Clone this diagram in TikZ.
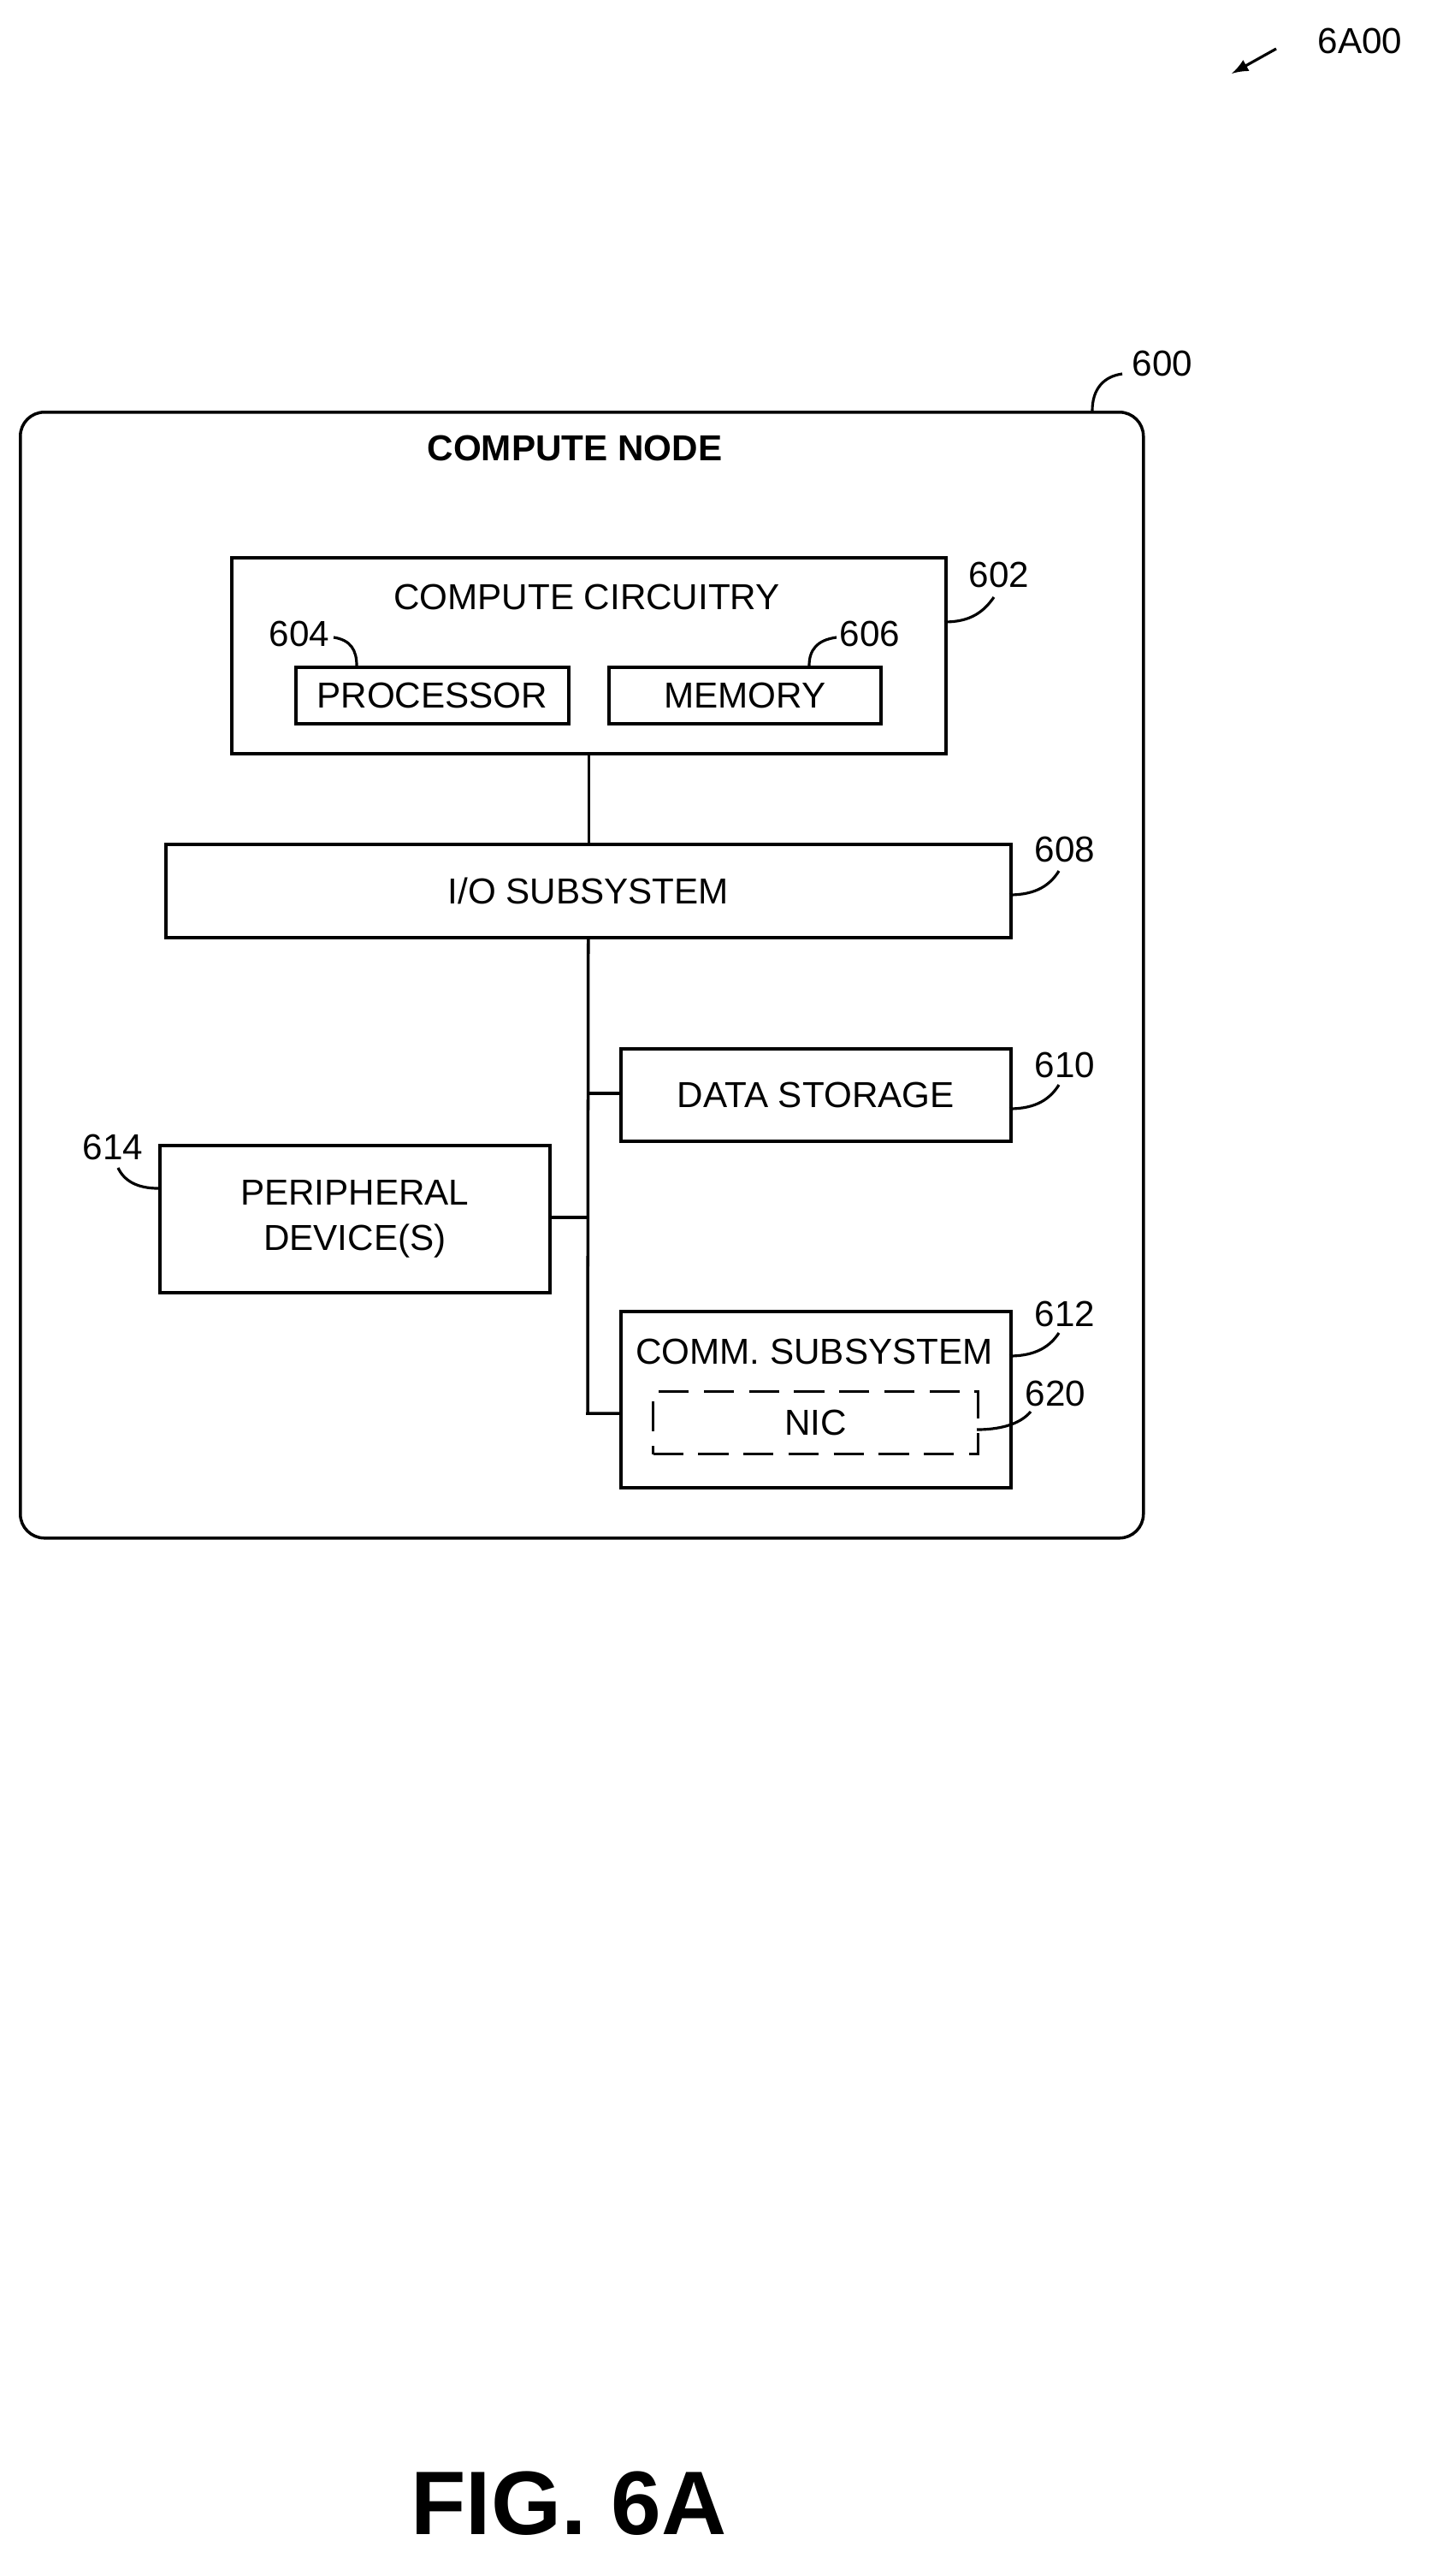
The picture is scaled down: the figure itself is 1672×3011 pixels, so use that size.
\documentclass[tikz,border=0pt]{standalone}
\usepackage{fontspec}
\setmainfont{Liberation Sans}
\usetikzlibrary{positioning}
\tikzstyle{block} = [
    rectangle,
    draw=black,
    line width=1pt,
    inner sep=0pt,
    font=\fontsize{12}{15}\selectfont,
    align=center
]
\tikzstyle{refnum} = [
    font=\fontsize{12}{15}\selectfont,
    inner sep=1pt
]
\tikzstyle{lead} = [
    line width=0.9pt
]
\tikzstyle{bus} = [
    line width=1pt
]

\begin{document}
\begin{tikzpicture}[x=0.01cm, y=-0.01cm]
    \useasboundingbox (0,0) rectangle (1672,3011);
    % outer node
    \node (node) [block, rounded corners=8pt, minimum width=1313*0.01cm, minimum height=1316*0.01cm, anchor=north west] at (22,480) {};
    \node (title) [font=\fontsize{12}{15}\selectfont\bfseries] at (672,524) {COMPUTE NODE};
    % compute circuitry
    \node (circ) [block, minimum width=835*0.01cm, minimum height=229*0.01cm, anchor=north west] at (269,650) {};
    \node (circtext) [font=\fontsize{12}{15}\selectfont] at (686,698) {COMPUTE CIRCUITRY};
    \node (proc) [block, minimum width=319*0.01cm, minimum height=66*0.01cm, anchor=north west] at (344,778) {PROCESSOR};
    \node (mem) [block, minimum width=318*0.01cm, minimum height=66*0.01cm, anchor=north west] at (710,778) {MEMORY};
    % I/O and devices
    \node (io) [block, minimum width=988*0.01cm, minimum height=109*0.01cm, anchor=north west] at (192,985) {I/O SUBSYSTEM};
    \node (store) [block, minimum width=456*0.01cm, minimum height=108*0.01cm, anchor=north west] at (724,1224) {DATA STORAGE};
    \node (periph) [block, minimum width=456*0.01cm, minimum height=172*0.01cm, anchor=north west] at (185,1337) {PERIPHERAL\\DEVICE(S)};
    \node (comm) [block, minimum width=456*0.01cm, minimum height=206*0.01cm, anchor=north west] at (724,1531) {};
    \node (commtext) [font=\fontsize{12}{15}\selectfont] at (952,1580) {COMM. SUBSYSTEM};
    \node (nic) [block, dash pattern=on 10pt off 5pt, line width=0.9pt, minimum width=380*0.01cm, minimum height=73*0.01cm, anchor=north west] at (762,1625) {NIC};

    \coordinate (busstore) at (687,1278);
    \coordinate (busperiph) at (687,1423);
    \coordinate (buscomm) at (687,1652);
    \draw[bus] (circ.south) -- (circ.south |- io.north);
    \draw[bus] (io.south) -- (buscomm) -- (buscomm -| comm.west);
    \draw[bus] (busstore) -- (busstore -| store.west);
    \draw[bus] (busperiph) -- (busperiph -| periph.east);

    % reference numerals
    \node (n600) [refnum] at (1359,425) {600};
    \node (n602) [refnum] at (1168,672) {602};
    \node (n604) [refnum] at (350,741) {604};
    \node (n606) [refnum] at (1017,741) {606};
    \node (n608) [refnum] at (1245,993) {608};
    \node (n610) [refnum] at (1245,1245) {610};
    \node (n612) [refnum] at (1245,1536) {612};
    \node (n620) [refnum] at (1234,1629) {620};
    \node (n614) [refnum] at (132,1341) {614};
    \node (n6a) [refnum] at (1590,48) {6A00};
    \draw[lead] (1277,480) .. controls (1277,455) and (1290,440) .. (1312,437);
    \draw[lead] (1104,727) .. controls (1135,727) and (1150,715) .. (1162,698);
    \draw[lead] (417,778) .. controls (417,760) and (410,748) .. (390,745);
    \draw[lead] (946,778) .. controls (946,760) and (955,748) .. (978,745);
    \draw[lead] (1180,1046) .. controls (1212,1046) and (1228,1034) .. (1238,1018);
    \draw[lead] (1180,1296) .. controls (1212,1296) and (1228,1284) .. (1238,1268);
    \draw[lead] (1180,1585) .. controls (1212,1585) and (1228,1573) .. (1238,1558);
    \draw[lead] (1142,1671) .. controls (1175,1671) and (1195,1662) .. (1205,1650);
    \draw[lead] (185,1389) .. controls (160,1389) and (145,1380) .. (138,1365);
    \draw[lead, -latex] (1492,57) -- (1440,86);
    \node (fig) [font=\fontsize{30}{36}\selectfont\bfseries] at (665,2926) {FIG. 6A};
\end{tikzpicture}
\end{document}
